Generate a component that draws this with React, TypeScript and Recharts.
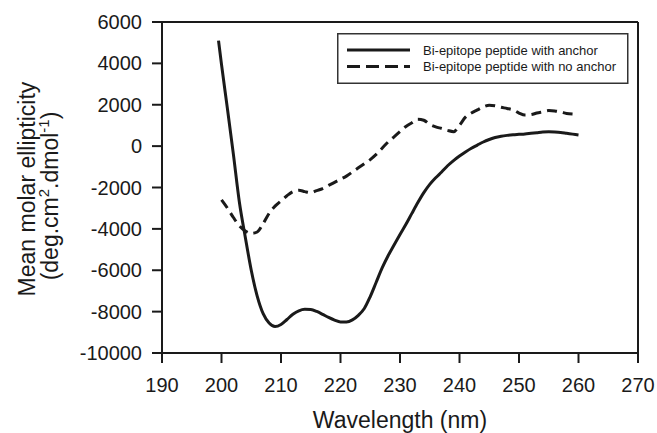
import React from 'react';
import { LineChart, Line, XAxis, YAxis, ReferenceLine } from 'recharts';

const anchorWavelengths = [199.5, 200, 201, 202, 203, 204, 205, 206, 207, 208, 209, 210, 211, 212, 213, 214, 215, 216, 217, 218, 219, 220, 221, 222, 223, 224, 225, 226, 227, 228, 229, 230, 231, 232, 233, 234, 235, 236, 237, 238, 239, 240, 241, 242, 243, 244, 245, 246, 247, 248, 249, 250, 251, 252, 253, 254, 255, 256, 257, 258, 259, 260];
const anchorValues = [5100, 3950, 1800, -400, -2700, -4400, -6000, -7250, -8100, -8550, -8720, -8620, -8380, -8130, -7960, -7890, -7900, -7990, -8130, -8280, -8410, -8500, -8500, -8400, -8180, -7850, -7270, -6580, -5890, -5300, -4780, -4270, -3780, -3250, -2730, -2250, -1850, -1530, -1250, -950, -700, -480, -280, -100, 50, 200, 320, 420, 480, 520, 550, 570, 590, 620, 650, 680, 690, 680, 660, 620, 580, 540];

const noAnchorWavelengths = [200, 201, 202, 203, 204, 205, 206, 207, 208, 209, 210, 211, 212, 213, 214, 215, 216, 217, 218, 219, 220, 221, 222, 223, 224, 225, 226, 227, 228, 229, 230, 231, 232, 233, 234, 235, 236, 237, 238, 239, 240, 241, 242, 243, 244, 245, 246, 247, 248, 249, 250, 251, 252, 253, 254, 255, 256, 257, 258, 259];
const noAnchorValues = [-2600, -3000, -3450, -3850, -4100, -4220, -4150, -3750, -3250, -2900, -2650, -2400, -2200, -2130, -2200, -2250, -2150, -2050, -1900, -1750, -1600, -1450, -1250, -1050, -850, -650, -400, -100, 200, 450, 700, 950, 1130, 1300, 1250, 1050, 930, 850, 760, 700, 1000, 1400, 1600, 1750, 1900, 1980, 1950, 1880, 1820, 1750, 1600, 1500, 1520, 1600, 1660, 1720, 1700, 1650, 1580, 1550];

const xTicks = [190, 200, 210, 220, 230, 240, 250, 260, 270];
const yTicks = [-10000, -8000, -6000, -4000, -2000, 0, 2000, 4000, 6000];

const seriesNames = ['Bi-epitope peptide with anchor', 'Bi-epitope peptide with no anchor'];

const anchorData = anchorWavelengths.map((wl, i) => ({ wl, v: anchorValues[i] }));
const noAnchorData = noAnchorWavelengths.map((wl, i) => ({ wl, v: noAnchorValues[i] }));

const FONT = "Arial, 'Liberation Sans', sans-serif";
const INK = '#1a1a1a';

const LegendBox = () => (
  <svg width={292} height={51} style={{ display: 'block' }}>
    <rect x={0.75} y={0.75} width={290} height={49.5} fill="#fff" stroke="#333" strokeWidth={1.5} />
    <line x1={10} y1={17} x2={73} y2={17} stroke={INK} strokeWidth={3} />
    <line x1={10} y1={33.5} x2={73} y2={33.5} stroke={INK} strokeWidth={3} strokeDasharray="13 6" />
    <text x={86} y={21.5} fontSize={13} fontFamily={FONT} fill={INK}>{seriesNames[0]}</text>
    <text x={86} y={38} fontSize={13} fontFamily={FONT} fill={INK}>{seriesNames[1]}</text>
  </svg>
);

const YTitle = () => (
  <g fontFamily={FONT} fill={INK}>
    <text transform="translate(35,189) rotate(-90)" textAnchor="middle" fontSize={23}>Mean molar ellipticity</text>
    <text transform="translate(58,196) rotate(-90)" textAnchor="middle" fontSize={23}>
      <tspan>(deg.cm</tspan>
      <tspan fontSize={15} dy={-9}>2</tspan>
      <tspan dy={9}>.dmol</tspan>
      <tspan fontSize={15} dy={-9}>-1</tspan>
      <tspan dy={9}>)</tspan>
    </text>
  </g>
);

export default function App() {
  return (
    <div style={{ position: 'absolute', left: 0, top: 0, width: 657, height: 433, background: '#fff' }}>
      <LineChart width={657} height={433} margin={{ top: 22, right: 19, bottom: 0, left: 0 }}>
        <XAxis
          dataKey="wl"
          type="number"
          domain={[190, 270]}
          ticks={xTicks}
          height={80}
          tickSize={10}
          tickMargin={15}
          stroke={INK}
          strokeWidth={2}
          tick={{ fontSize: 20, fontFamily: FONT, fill: INK }}
          allowDataOverflow
          label={{ value: 'Wavelength (nm)', position: 'insideBottom', offset: 5, fontSize: 23, fontFamily: FONT, fill: INK }}
        />
        <YAxis
          type="number"
          domain={[-10000, 6000]}
          ticks={yTicks}
          width={162}
          tickSize={10}
          tickMargin={10}
          stroke={INK}
          strokeWidth={2}
          tick={{ fontSize: 20, fontFamily: FONT, fill: INK }}
          allowDataOverflow
          label={{ content: () => <YTitle /> }}
        />
        <ReferenceLine y={6000} stroke={INK} strokeWidth={2} />
        <ReferenceLine x={270} stroke={INK} strokeWidth={2} />
        <Line
          data={anchorData}
          dataKey="v"
          name={seriesNames[0]}
          type="monotone"
          stroke={INK}
          strokeWidth={3}
          dot={false}
          isAnimationActive={false}
        />
        <Line
          data={noAnchorData}
          dataKey="v"
          name={seriesNames[1]}
          type="monotone"
          stroke={INK}
          strokeWidth={3}
          strokeDasharray="10 6"
          dot={false}
          isAnimationActive={false}
        />
      </LineChart>
      <div style={{ position: 'absolute', left: 337, top: 33, width: 292, height: 51 }}>
        <LegendBox />
      </div>
    </div>
  );
}
